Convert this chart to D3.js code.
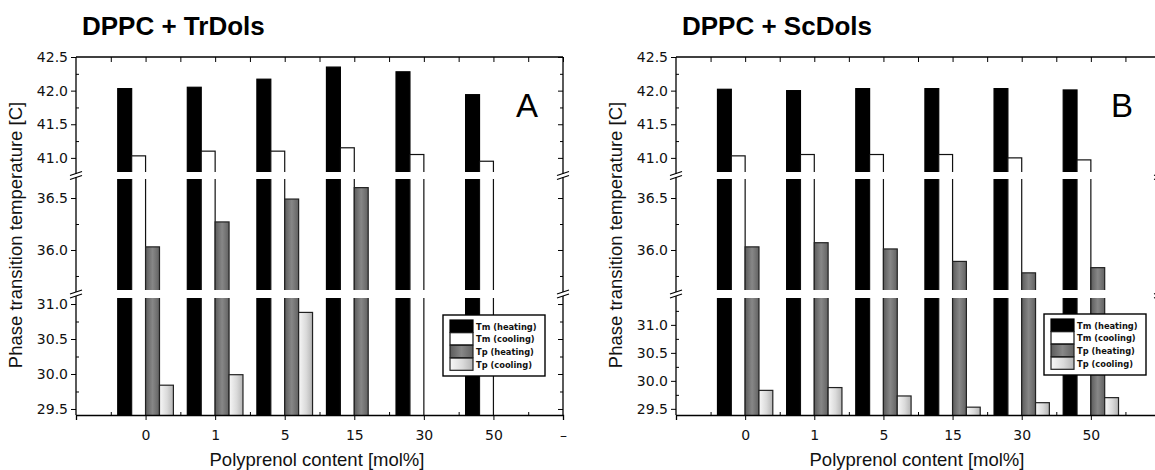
<!DOCTYPE html>
<html>
<head>
<meta charset="utf-8">
<script src="https://cdn.jsdelivr.net/npm/d3@7"></script>
<style>
  body { margin: 0; background: #fff; }
  svg { display: block; font-family: "Liberation Sans", Arial, sans-serif; }
  .tick text { font-family: "DejaVu Sans", sans-serif; font-size: 14px; fill: #111; }
</style>
</head>
<body>
<div class="canvas"></div>
<script>
// categories and tick labels
const categories = ['0', '1', '5', '15', '30', '50'];
const xTickLabels = ['0', '1', '5', '15', '30', '50', '–'];
const seriesNames = ['Tm (heating)', 'Tm (cooling)', 'Tp (heating)', 'Tp (cooling)'];

// panel A : DPPC + TrDols
const trTmHeating = [42.03, 42.05, 42.17, 42.35, 42.28, 41.94];
const trTmCooling = [41.03, 41.10, 41.10, 41.15, 41.05, 40.95];
const trTpHeating = [36.03, 36.27, 36.49, 36.60, null, null];
const trTpCooling = [29.84, 29.99, 30.88, null, null, null];

// panel B : DPPC + ScDols
const scTmHeating = [42.02, 42.00, 42.03, 42.03, 42.03, 42.01];
const scTmCooling = [41.03, 41.05, 41.05, 41.05, 41.00, 40.97];
const scTpHeating = [36.03, 36.07, 36.01, 35.89, 35.78, 35.83];
const scTpCooling = [29.83, 29.88, 29.73, 29.53, 29.61, 29.70];

// y tick labels of the three axis pieces
const upperTicks = [41.0, 41.5, 42.0, 42.5];
const middleTicks = [36.0, 36.5];
const lowerTicks = [29.5, 30.0, 30.5, 31.0];

const svg = d3.select('.canvas')
  .append('svg')
    .attr('width', 1155)
    .attr('height', 470);

const defs = svg.append('defs');
const gGray = defs.append('linearGradient').attr('id', 'gTpH').attr('x1', 0).attr('x2', 1).attr('y1', 0).attr('y2', 0);
gGray.append('stop').attr('offset', 0).attr('stop-color', '#5c5c5c');
gGray.append('stop').attr('offset', 0.5).attr('stop-color', '#878787');
gGray.append('stop').attr('offset', 1).attr('stop-color', '#626262');
const gLight = defs.append('linearGradient').attr('id', 'gTpC').attr('x1', 0).attr('x2', 1).attr('y1', 0).attr('y2', 0);
gLight.append('stop').attr('offset', 0).attr('stop-color', '#f7f7f7');
gLight.append('stop').attr('offset', 0.55).attr('stop-color', '#dadada');
gLight.append('stop').attr('offset', 1).attr('stop-color', '#b4b4b4');

const fills = ['#000', '#fff', 'url(#gTpH)', 'url(#gTpC)'];
const strokes = ['#000', '#111', '#222', '#222'];

// pixel extent of the three axis pieces (top, bottom)
const segPix = [[57, 172], [179, 290], [298, 415]];

function minorOf(dom, step) {
  const out = [];
  for (let v = Math.ceil(dom[0] / step) * step; v <= dom[1] + 1e-9; v += step) {
    if (Math.abs(v / 0.5 - Math.round(v / 0.5)) > 1e-6) out.push(+v.toFixed(2));
  }
  return out;
}

function drawPanel(p) {
  const g = svg.append('g');
  const x = d3.scaleLinear().domain([-1, 6]).range([p.left, p.right]);
  const sub = d3.scaleBand().domain(seriesNames).range([-0.4, 0.4]);
  const barW = x(sub.bandwidth()) - x(0);

  const values = [p.tmH, p.tmC, p.tpH, p.tpC];
  const bars = [];
  seriesNames.forEach((s, si) => categories.forEach((c, ci) => {
    const v = values[si][ci];
    if (v != null) bars.push({s, si, ci, v});
  }));

  const segs = p.domains.map((dom, i) => ({
    top: segPix[i][0],
    bottom: segPix[i][1],
    y: d3.scaleLinear().domain(dom).range([segPix[i][1], segPix[i][0]]),
    ticks: p.ticks[i],
    minor: minorOf(dom, 0.25)
  }));

  // bars, clipped to each axis piece
  segs.forEach((seg, k) => {
    const clipId = `clip-${p.id}-${k}`;
    defs.append('clipPath').attr('id', clipId).append('rect')
      .attr('x', p.left).attr('y', seg.top)
      .attr('width', p.right - p.left).attr('height', seg.bottom - seg.top);
    const lo = seg.y.domain()[0];
    const top = d => Math.max(seg.y(d.v), seg.top - 5);
    g.append('g').attr('clip-path', `url(#${clipId})`)
      .selectAll('rect')
      .data(bars.filter(d => d.v > lo))
      .enter()
      .append('rect')
        .attr('x', d => x(d.ci + sub(d.s)))
        .attr('width', barW)
        .attr('y', top)
        .attr('height', d => seg.bottom + 5 - top(d))
        .attr('fill', d => fills[d.si])
        .attr('stroke', d => strokes[d.si])
        .attr('stroke-width', 1.2);

    // left axis: major out, minor in
    g.append('g').attr('transform', `translate(${p.left},0)`)
      .call(d3.axisLeft(seg.y).tickValues(seg.ticks).tickFormat(d3.format('.1f')).tickSize(5).tickPadding(3))
      .call(a => a.select('.domain').remove());
    g.append('g').attr('transform', `translate(${p.left},0)`)
      .call(d3.axisRight(seg.y).tickValues(seg.minor).tickFormat('').tickSize(3))
      .call(a => a.select('.domain').remove());
    // right axis, inward
    g.append('g').attr('transform', `translate(${p.right},0)`)
      .call(d3.axisLeft(seg.y).tickValues(seg.ticks).tickFormat('').tickSize(5))
      .call(a => a.select('.domain').remove());
    g.append('g').attr('transform', `translate(${p.right},0)`)
      .call(d3.axisLeft(seg.y).tickValues(seg.minor).tickFormat('').tickSize(3))
      .call(a => a.select('.domain').remove());

    // side frame pieces
    [p.left, p.right].forEach(xx => {
      g.append('line').attr('x1', xx).attr('x2', xx)
        .attr('y1', seg.top - (k === 0 ? 0 : 2)).attr('y2', seg.bottom + (k === 2 ? 0 : 2))
        .attr('stroke', '#000').attr('stroke-width', 1.3);
    });
  });

  // break marks
  [(segPix[0][1] + segPix[1][0]) / 2, (segPix[1][1] + segPix[2][0]) / 2].forEach(yy => {
    [p.left, p.right].forEach(xx => {
      [-2, 2].forEach(o => {
        g.append('line')
          .attr('x1', xx - 6).attr('y1', yy + o + 2)
          .attr('x2', xx + 6).attr('y2', yy + o - 2)
          .attr('stroke', '#000').attr('stroke-width', 1.1);
      });
    });
  });

  // top and bottom frame
  const majorX = d3.range(0, p.lastTick + 1);
  const minorX = d3.range(-0.5, 6, 1);
  g.append('line').attr('x1', p.left).attr('x2', p.right).attr('y1', segPix[0][0]).attr('y2', segPix[0][0])
    .attr('stroke', '#000').attr('stroke-width', 1.3);
  g.append('g').attr('transform', `translate(0,${segPix[0][0]})`)
    .call(d3.axisBottom(x).tickValues(majorX.concat(minorX)).tickFormat('').tickSize(5))
    .call(a => a.select('.domain').remove());
  g.append('g').attr('transform', `translate(0,${segPix[2][1]})`)
    .call(d3.axisBottom(x).tickValues(majorX).tickFormat(i => xTickLabels[i]).tickSize(5).tickPadding(10))
    .call(a => a.select('.domain').attr('stroke-width', 1.3));
  g.append('g').attr('transform', `translate(0,${segPix[2][1]})`)
    .call(d3.axisTop(x).tickValues(minorX).tickFormat('').tickSize(3))
    .call(a => a.select('.domain').remove());

  // titles
  g.append('text').attr('x', p.left + 6).attr('y', 35)
    .attr('font-size', 26).attr('font-weight', 'bold').attr('fill', '#000')
    .text(p.title);
  g.append('text').attr('x', p.letterX).attr('y', 117)
    .attr('font-size', 33).attr('text-anchor', 'middle').attr('fill', '#000')
    .text(p.letter);
  g.append('text').attr('transform', `translate(${p.left - 54},235) rotate(-90)`)
    .attr('text-anchor', 'middle').attr('font-size', 18.5).attr('fill', '#111')
    .text('Phase transition temperature [C]');
  g.append('text').attr('x', p.xTitleX).attr('y', 466)
    .attr('text-anchor', 'middle').attr('font-size', 18.5).attr('fill', '#111')
    .text('Polyprenol content [mol%]');

  // legend
  const lg = g.append('g').attr('transform', `translate(${p.legend[0]},${p.legend[1]})`);
  lg.append('rect').attr('width', 102).attr('height', 61)
    .attr('fill', '#fff').attr('stroke', '#000').attr('stroke-width', 1.4);
  seriesNames.forEach((s, i) => {
    lg.append('rect').attr('x', 7).attr('y', 5 + i * 12.7).attr('width', 23).attr('height', 12.2)
      .attr('fill', fills[i]).attr('stroke', strokes[i]).attr('stroke-width', 1.2);
    lg.append('text').attr('x', 33).attr('y', 14.5 + i * 12.7)
      .attr('font-family', '"DejaVu Sans", sans-serif').attr('font-weight', 'bold')
      .attr('font-size', 8.3).attr('fill', '#111')
      .text(s);
  });
}

drawPanel({
  id: 'A', title: 'DPPC + TrDols', letter: 'A', letterX: 527,
  left: 76, right: 563, xTitleX: 317, legend: [443, 315], lastTick: 6,
  domains: [[40.79, 42.5], [35.615, 36.683], [29.414, 31.086]],
  ticks: [upperTicks, middleTicks, lowerTicks],
  tmH: trTmHeating, tmC: trTmCooling, tpH: trTpHeating, tpC: trTpCooling
});

drawPanel({
  id: 'B', title: 'DPPC + ScDols', letter: 'B', letterX: 1122,
  left: 676, right: 1160, xTitleX: 917, legend: [1044, 314], lastTick: 5,
  domains: [[40.79, 42.5], [35.615, 36.683], [29.39, 31.48]],
  ticks: [upperTicks, middleTicks, lowerTicks],
  tmH: scTmHeating, tmC: scTmCooling, tpH: scTpHeating, tpC: scTpCooling
});
</script>
</body>
</html>
